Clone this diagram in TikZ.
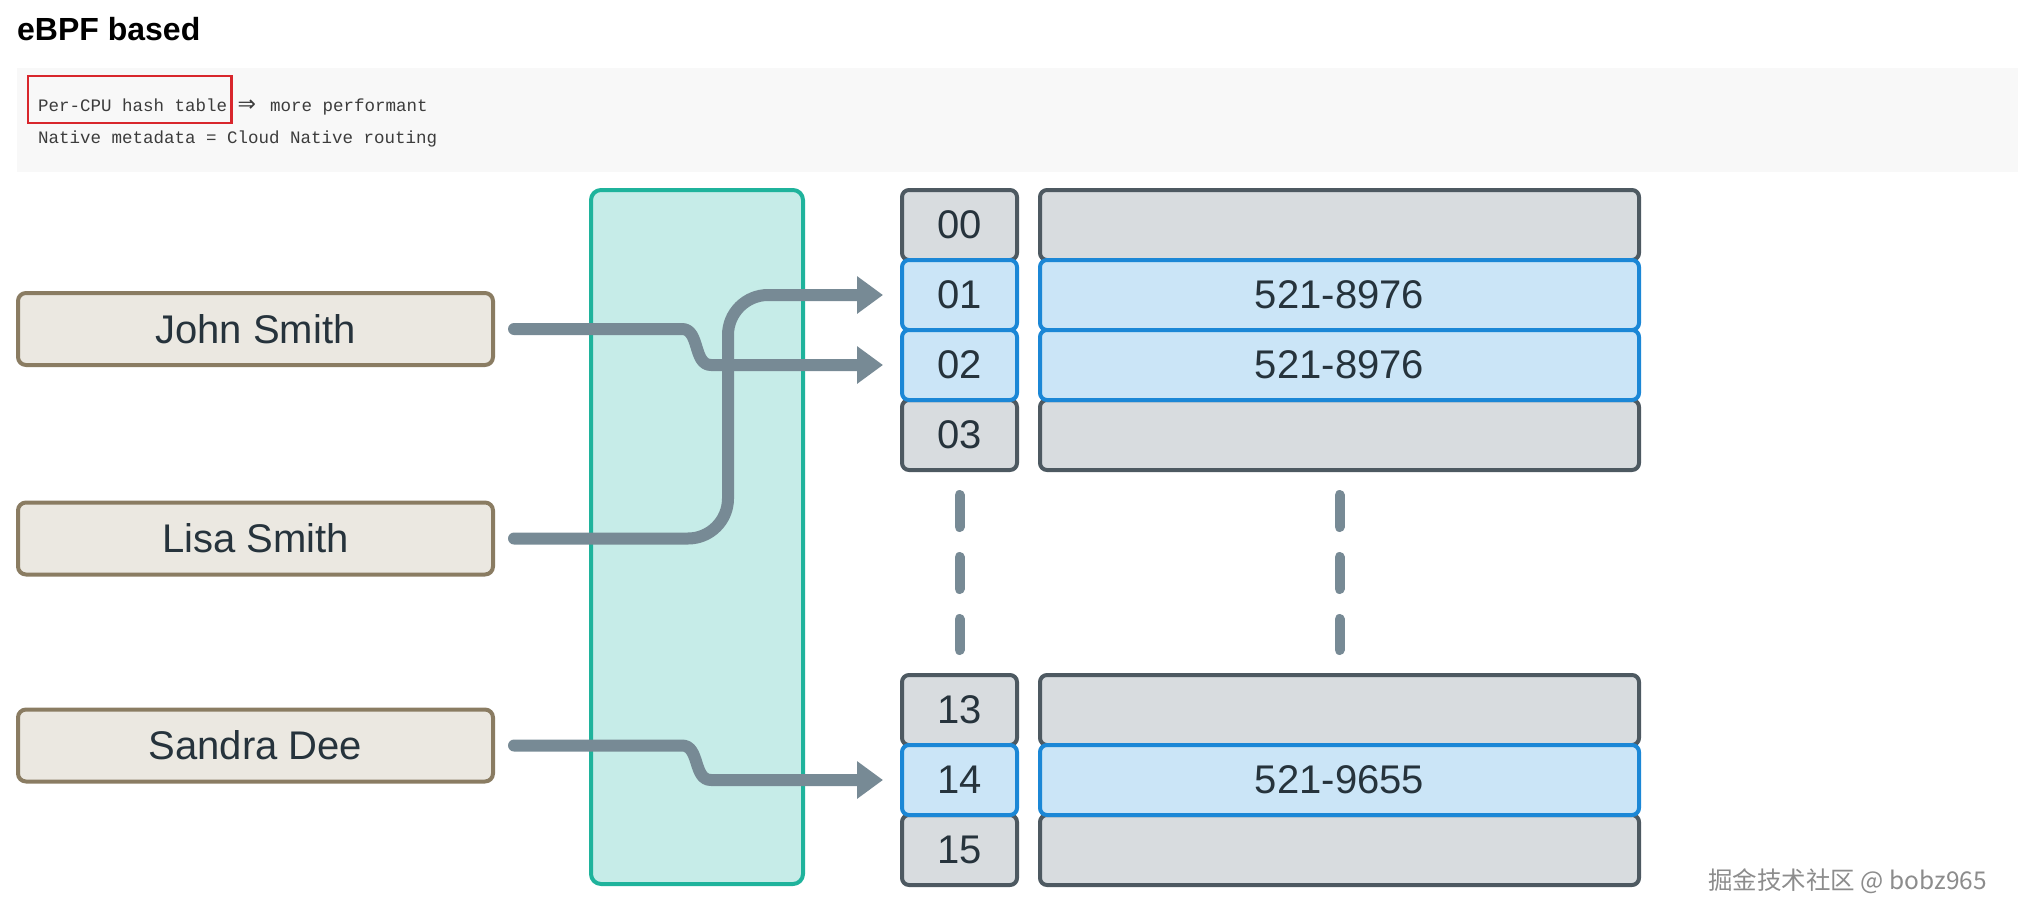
\documentclass[tikz,border=0pt]{standalone}
\usepackage{fontspec}
\usepackage{tikz}
\usetikzlibrary{arrows.meta, positioning, calc}

\newfontfamily\namefont{Liberation Sans}
\newfontfamily\codefont{Liberation Mono}
\newfontfamily\arrowfont{DejaVu Sans}
\newfontfamily\cjkfont{Noto Sans CJK SC}

\definecolor{nameedge}{HTML}{8A7C62}
\definecolor{namefill}{HTML}{EBE8E1}
\definecolor{ink}{HTML}{26333C}
\definecolor{tealedge}{HTML}{1FB39C}
\definecolor{tealfill}{HTML}{C6ECE8}
\definecolor{celledge}{HTML}{4D5961}
\definecolor{cellfill}{HTML}{D8DCDF}
\definecolor{hotedge}{HTML}{1B87D6}
\definecolor{hotfill}{HTML}{CBE5F7}
\definecolor{flowgrey}{HTML}{778A95}
\definecolor{codebg}{HTML}{F8F8F8}
\definecolor{hlred}{HTML}{D8262C}
\definecolor{codeink}{HTML}{3C3C3C}
\definecolor{markgrey}{HTML}{8C8C8C}

\begin{document}
\begin{tikzpicture}[x=1pt, y=-1pt, >=Stealth, line cap=round, line join=round]
    % Styles
    \tikzset{
        namebox/.style={draw=nameedge, fill=namefill, line width=4pt, rounded corners=8pt,
            minimum width=475pt, minimum height=72pt, inner sep=0pt, text=ink,
            font=\namefont\fontsize{40}{48}\selectfont},
        tealbox/.style={draw=tealedge, fill=tealfill, line width=4pt, rounded corners=10pt,
            minimum width=212pt, minimum height=694pt},
        keycell/.style={draw=celledge, fill=cellfill, line width=4pt, rounded corners=7pt,
            minimum height=70pt, inner sep=0pt, text=ink,
            font=\namefont\fontsize{40}{48}\selectfont},
        hotcell/.style={keycell, draw=hotedge, fill=hotfill},
        flow/.style={draw=flowgrey, line width=12pt, -{Triangle[length=26pt, width=36pt]}},
        gapline/.style={draw=flowgrey, line width=10pt, dash pattern=on 32pt off 30pt},
        codetext/.style={anchor=base west, inner sep=0pt, text=codeink,
            font=\codefont\fontsize{17.5}{21}\selectfont}
    }

    \useasboundingbox (0,0) rectangle (2018,918);

    % --- Heading and code block ---
    \node[anchor=base west, inner sep=0pt, font=\namefont\bfseries\fontsize{32}{38}\selectfont] (title) at (17,40) {eBPF based};
    \fill[codebg] (17,68) rectangle (2018,172);
    \node[codetext] (hl) at (38,111) {Per-CPU hash table};
    \draw[hlred, line width=2.6pt, line cap=butt, line join=miter] ($(hl.base west)+(-10,-35)$) rectangle ($(hl.base east)+(4,12)$);
    \node[codetext] (more) at ($(hl.base east)+(10,0)$) {\makebox[22pt][l]{\arrowfont\fontsize{22}{24}\selectfont ⇒} more performant};
    \node[codetext] (meta) at (38,143) {Native metadata = Cloud Native routing};

    % --- Hash function ---
    \node[tealbox] (hash) at (697,537) {};

    % --- Names ---
    \node[namebox] (john) at (255.5,329) {John Smith};
    \node[namebox] (lisa) at (255.5,538.5) {Lisa Smith};
    \node[namebox] (sandra) at (255.5,745.5) {Sandra Dee};

    % --- Buckets (grey first, highlighted on top) ---
    \foreach \idx/\ypos/\val in {00/225/, 03/435/, 13/710/, 15/850/} {
        \node[keycell, minimum width=115pt] (k\idx) at (959.5,\ypos) {\idx};
        \node[keycell, minimum width=599pt] (v\idx) at (1339.5,\ypos) {\val};
    }
    \foreach \idx/\ypos/\val in {01/295/521-8976, 02/365/521-8976, 14/780/521-9655} {
        \node[hotcell, minimum width=115pt] (k\idx) at (959.5,\ypos) {\idx};
        \node[hotcell, minimum width=599pt] (v\idx) at (1339.5,\ypos) {\val};
    }

    % --- Gap between bucket 03 and 13 ---
    \draw[gapline, shorten <=23pt, shorten >=23pt] (k03.south) -- (k13.north);
    \draw[gapline, shorten <=23pt, shorten >=23pt] (v03.south) -- (v13.north);

    % --- Hashing paths ---
    \draw[flow] ([xshift=19pt]john.east) -- ($(john.east)+(187,0)$)
        .. controls ($(john.east)+(205,0)$) and ($(k02.west)+(-207,0)$) .. ($(k02.west)+(-189,0)$)
        -- ([xshift=-17pt]k02.west);
    \draw[flow, rounded corners=40pt] ([xshift=19pt]lisa.east) -| ($(k01.west)+(-172,0)$)
        -- ([xshift=-17pt]k01.west);
    \draw[flow] ([xshift=19pt]sandra.east) -- ($(sandra.east)+(187,0)$)
        .. controls ($(sandra.east)+(205,0)$) and ($(k14.west)+(-207,0)$) .. ($(k14.west)+(-189,0)$)
        -- ([xshift=-17pt]k14.west);

    % --- Watermark ---
    \node[anchor=base west, inner sep=0pt, text=markgrey, font=\cjkfont\fontsize{24.5}{30}\selectfont] (mark) at (1708,889) {掘金技术社区 @ bobz965};

\end{tikzpicture}
\end{document}
